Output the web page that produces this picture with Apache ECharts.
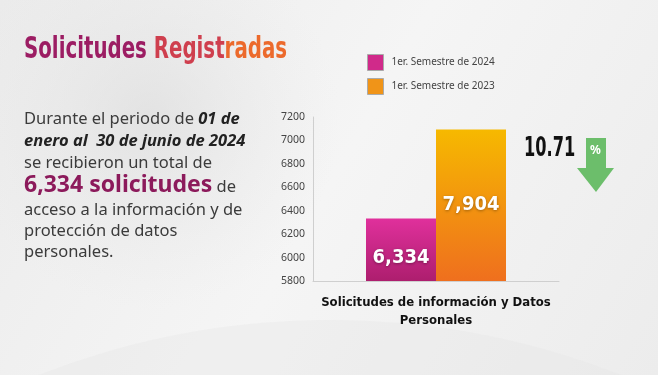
<!DOCTYPE html>
<html>
<head>
<meta charset="utf-8">
<script src="https://cdn.jsdelivr.net/npm/echarts@6/dist/echarts.min.js"></script>
<style>
  html, body { margin: 0; padding: 0; background: #f2f2f2; }
  #main { width: 658px; height: 375px; }
</style>
</head>
<body>
<div id="main"></div>
<script>
var categories = ['Solicitudes de información y Datos\nPersonales'];
var seriesNames = ['1er. Semestre de 2024', '1er. Semestre de 2023'];
var values2024 = [6334];
var values2023 = [7094];
var barLabels = ['6,334', '7,904'];   // etiqueta tal como aparece en la lámina
var yTicks = { min: 5800, max: 7200, interval: 200 };
var variacion = '10.71';

var condensed = "'DejaVu Sans Condensed', 'DejaVu Sans', sans-serif";
var bodyFont = "'Noto Sans', 'Open Sans', sans-serif";

var chart = echarts.init(document.getElementById('main'));

var option = {
    backgroundColor: {
        type: 'linear', x: 0, y: 0, x2: 1, y2: 1,
        colorStops: [
            { offset: 0, color: '#ebebeb' },
            { offset: 0.5, color: '#f5f5f5' },
            { offset: 1, color: '#ececec' }
        ]
    },
    graphic: [
        // globo decorativo al fondo
        { type: 'circle', shape: { cx: 150, cy: 120, r: 190 }, z: -10, silent: true,
          style: { fill: { type: 'radial', x: 0.5, y: 0.5, r: 0.5,
              colorStops: [{ offset: 0, color: 'rgba(215,215,215,0.55)' }, { offset: 1, color: 'rgba(230,230,230,0)' }] } } },
        { type: 'circle', shape: { cx: 330, cy: 1120, r: 800 }, z: -10, silent: true,
          style: { fill: 'rgba(230,230,230,0.35)' } },
        // título
        { type: 'text', x: 24, y: 35, scaleY: 1.35, z: 10,
          style: {
              text: '{a|Solicitudes }{b|Regist}{c|radas}',
              textVerticalAlign: 'top',
              rich: {
                  a: { fontFamily: condensed, fontWeight: 'bold', fontSize: 22, fill: '#9c1d63' },
                  b: { fontFamily: condensed, fontWeight: 'bold', fontSize: 22, fill: '#cf3f4e' },
                  c: { fontFamily: condensed, fontWeight: 'bold', fontSize: 22, fill: '#ec6a2c' }
              }
          } },
        // párrafo
        { type: 'text', left: 24, top: 111,
          style: { text: '{n|Durante el periodo de }{bi|01 de}',
                   rich: { n: { fontFamily: bodyFont, fontSize: 16.5, fill: '#3b3b3b' },
                           bi: { fontFamily: bodyFont, fontSize: 16.5, fontWeight: 'bold', fontStyle: 'italic', fill: '#222' } } } },
        { type: 'text', left: 24, top: 133,
          style: { text: 'enero al  30 de junio de 2024', font: 'italic bold 16.5px ' + bodyFont, fill: '#222' } },
        { type: 'text', left: 24, top: 155,
          style: { text: 'se recibieron un total de', font: '16.5px ' + bodyFont, fill: '#3b3b3b' } },
        { type: 'text', left: 24, top: 174,
          style: { text: '{h|6,334 solicitudes}{n| de}',
                   rich: { h: { fontFamily: bodyFont, fontSize: 23, fontWeight: 'bold', fill: '#8c1a5b' },
                           n: { fontFamily: bodyFont, fontSize: 16.5, fill: '#3b3b3b', padding: [4, 0, 0, 0] } } } },
        { type: 'text', left: 24, top: 202,
          style: { text: 'acceso a la información y de', font: '16.5px ' + bodyFont, fill: '#3b3b3b' } },
        { type: 'text', left: 24, top: 223,
          style: { text: 'protección de datos', font: '16.5px ' + bodyFont, fill: '#3b3b3b' } },
        { type: 'text', left: 24, top: 244,
          style: { text: 'personales.', font: '16.5px ' + bodyFont, fill: '#3b3b3b' } },
        // variación
        { type: 'text', x: 524, y: 149, scaleY: 1.45,
          style: { text: variacion, font: 'bold 18px ' + condensed, fill: '#111', textVerticalAlign: 'middle' } },
        { type: 'polygon', z: 5,
          shape: { points: [[586, 138], [606, 138], [606, 168], [614, 168], [596, 192], [577, 168], [586, 168]] },
          style: { fill: '#6cbe6b' } },
        { type: 'text', left: 590, top: 145, z: 6,
          style: { text: '%', font: 'bold 12px ' + bodyFont, fill: '#fff' } }
    ],
    legend: {
        orient: 'vertical',
        left: 367, top: 54, padding: 0,
        itemWidth: 16, itemHeight: 16, itemGap: 7,
        icon: 'rect',
        textStyle: { fontFamily: bodyFont, fontSize: 10, color: '#444', padding: [0, 0, 0, 3] },
        data: [
            { name: seriesNames[0], itemStyle: { color: '#d02a8a', borderColor: '#aaa', borderWidth: 1 } },
            { name: seriesNames[1], itemStyle: { color: '#f09418', borderColor: '#aaa', borderWidth: 1 } }
        ]
    },
    grid: { left: 313, top: 117, width: 246, height: 164 },
    xAxis: {
        type: 'category',
        data: categories,
        axisLine: { lineStyle: { color: '#cfcfcf' } },
        axisTick: { show: false },
        axisLabel: { fontFamily: condensed, fontWeight: 'bold', fontSize: 13, color: '#111', lineHeight: 18, margin: 13 }
    },
    yAxis: {
        type: 'value',
        min: yTicks.min, max: yTicks.max, interval: yTicks.interval,
        axisLine: { show: true, lineStyle: { color: '#cfcfcf' } },
        axisTick: { show: false },
        splitLine: { show: false },
        axisLabel: { fontFamily: bodyFont, fontSize: 10.5, color: '#444', margin: 8,
                     formatter: function (v) { return String(v); } }
    },
    series: [
        {
            name: seriesNames[0], type: 'bar', data: values2024,
            barWidth: 70, barGap: '0%',
            itemStyle: { color: { type: 'linear', x: 0, y: 0, x2: 0, y2: 1,
                colorStops: [{ offset: 0, color: '#e0309c' }, { offset: 1, color: '#ad1e6e' }] } },
            label: { show: true, position: 'insideBottom', distance: 13,
                     formatter: function () { return barLabels[0]; },
                     fontFamily: condensed, fontWeight: 'bold', fontSize: 20, color: '#fff',
                     textShadowColor: 'rgba(0,0,0,0.35)', textShadowBlur: 3, textShadowOffsetY: 1 }
        },
        {
            name: seriesNames[1], type: 'bar', data: values2023,
            barWidth: 70,
            itemStyle: { color: { type: 'linear', x: 0, y: 0, x2: 0, y2: 1,
                colorStops: [{ offset: 0, color: '#f6b900' }, { offset: 1, color: '#ef6f1e' }] } },
            label: { show: true, position: 'inside',
                     formatter: function () { return barLabels[1]; },
                     fontFamily: condensed, fontWeight: 'bold', fontSize: 20, color: '#fff',
                     textShadowColor: 'rgba(0,0,0,0.35)', textShadowBlur: 3, textShadowOffsetY: 1 }
        }
    ]
};
chart.setOption(option);

window.onresize = function () {
    if (chart != null && chart != undefined) {
        chart.resize();
    }
};
</script>
</body>
</html>
